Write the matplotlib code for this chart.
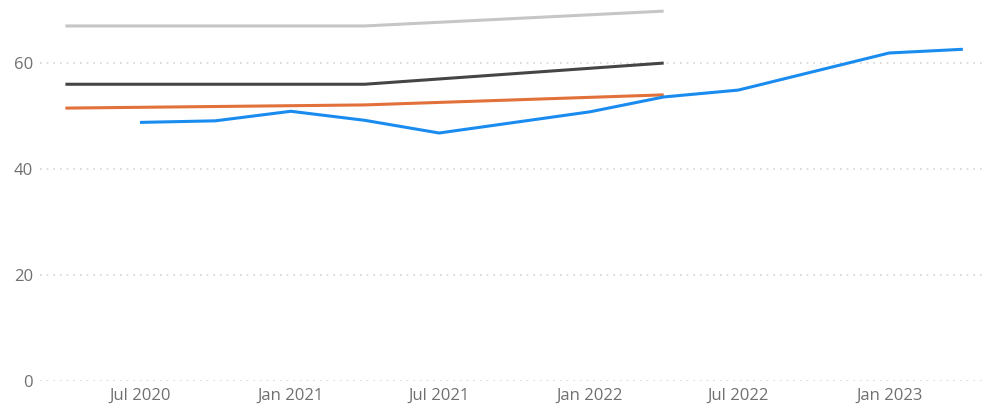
import pandas as pd
import matplotlib.pyplot as plt

plt.rcParams['font.family'] = ['Open Sans', 'DejaVu Sans']

# quarterly series (blue)
blue_dates = pd.to_datetime(["2020-07-01", "2020-10-01", "2021-01-01", "2021-04-01",
                             "2021-07-01", "2021-10-01", "2022-01-01", "2022-04-01",
                             "2022-07-01", "2022-10-01", "2023-01-01", "2023-04-01"])
blue_vals = [48.8, 49.1, 50.9, 49.2, 46.8, 48.8, 50.8, 53.6, 54.9, 58.4, 61.9, 62.6]

# yearly benchmark lines
ref_dates = pd.to_datetime(["2020-04-01", "2021-04-01", "2022-04-01"])
light_vals = [67.0, 67.0, 69.8]
dark_vals = [56.0, 56.0, 60.0]
orange_vals = [51.5, 52.1, 54.0]

tick_dates = pd.to_datetime(["2020-07-01", "2021-01-01", "2021-07-01",
                             "2022-01-01", "2022-07-01", "2023-01-01"])
tick_labels = ["Jul 2020", "Jan 2021", "Jul 2021", "Jan 2022", "Jul 2022", "Jan 2023"]
y_ticks = [0, 20, 40, 60]

fig = plt.figure(figsize=(9.85, 4.15), dpi=100)
ax = fig.add_axes([40 / 985, 34 / 415, 945 / 985, 381 / 415])

ax.plot(ref_dates, light_vals, color="#c6c6c6", lw=2.2, solid_capstyle="butt")
ax.plot(ref_dates, dark_vals, color="#454545", lw=2.2, solid_capstyle="butt")
ax.plot(ref_dates, orange_vals, color="#e2703a", lw=2.2, solid_capstyle="butt")
ax.plot(blue_dates, blue_vals, color="#1a8cf0", lw=2.2, solid_capstyle="butt")

ax.set_xlim(pd.Timestamp("2020-03-01"), pd.Timestamp("2023-04-28"))
ax.set_ylim(0, 71.9)

ax.set_yticks(y_ticks)
ax.set_yticklabels([str(v) for v in y_ticks])
ax.set_xticks(tick_dates)
ax.set_xticklabels(tick_labels)
ax.tick_params(axis="both", length=0, labelsize=12, labelcolor="#707070")
ax.tick_params(axis="y", pad=5)
ax.tick_params(axis="x", pad=5)

ax.grid(axis="y", color="#d4d4d4", linestyle=(0, (1, 3)), lw=1.2)
ax.set_axisbelow(True)
for s in ax.spines.values():
    s.set_visible(False)

fig.savefig("out.png", dpi=100)
